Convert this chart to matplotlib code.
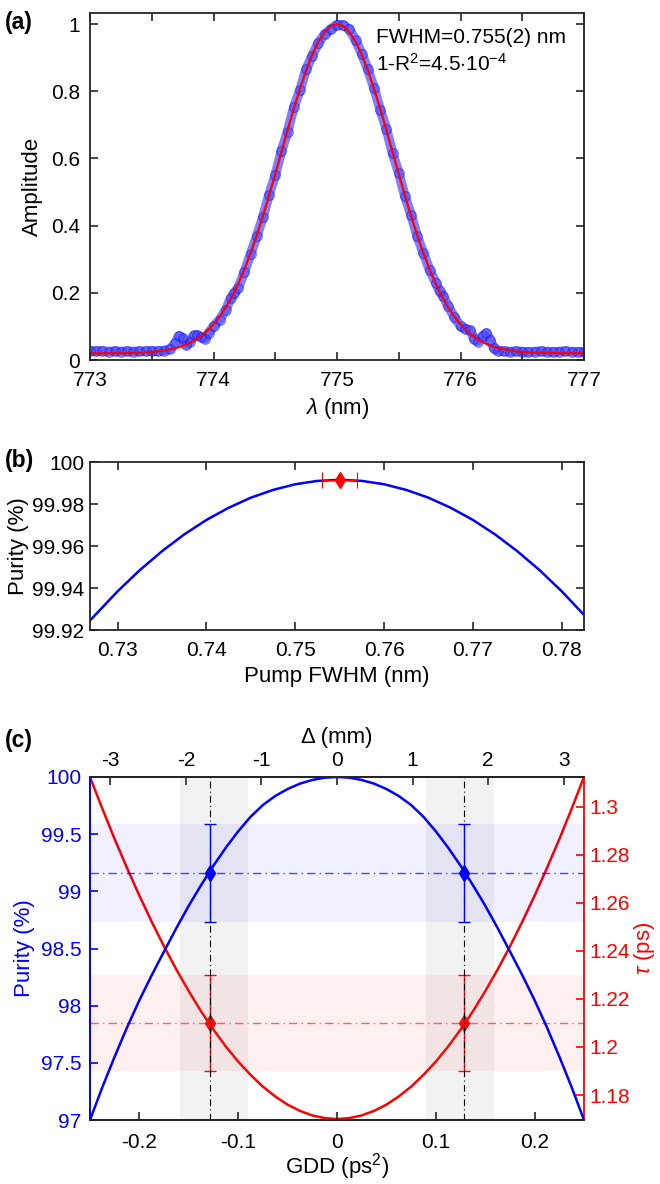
import numpy as np
import matplotlib
matplotlib.use("Agg")
import matplotlib.pyplot as plt
from matplotlib.ticker import FuncFormatter

plt.rcParams['font.family'] = ['Liberation Sans', 'DejaVu Sans']
plt.rcParams['mathtext.fontset'] = 'custom'
plt.rcParams['mathtext.rm'] = 'Liberation Sans'
plt.rcParams['mathtext.it'] = 'Liberation Sans:italic'
plt.rcParams['axes.unicode_minus'] = False

# ---- (a) measured spectrum and fit ----
lam_meas = [773.00, 773.05, 773.10, 773.15, 773.20, 773.25, 773.30, 773.35, 773.40, 773.45,
            773.50, 773.55, 773.60, 773.65, 773.69, 773.72, 773.75, 773.78, 773.81, 773.84,
            773.87, 773.90, 773.93, 773.96, 774.00, 774.05, 774.10, 774.14, 774.17, 774.20,
            774.25, 774.30, 774.35, 774.40, 774.45, 774.50, 774.55, 774.60, 774.65, 774.70,
            774.75, 774.80, 774.85, 774.90, 774.95, 775.00, 775.05, 775.10, 775.15, 775.20,
            775.25, 775.30, 775.35, 775.40, 775.45, 775.50, 775.55, 775.60, 775.65, 775.70,
            775.75, 775.80, 775.83, 775.86, 775.90, 775.95, 776.00, 776.04, 776.08, 776.11,
            776.14, 776.18, 776.21, 776.24, 776.27, 776.30, 776.35, 776.40, 776.45, 776.50,
            776.55, 776.60, 776.65, 776.70, 776.75, 776.80, 776.85, 776.90, 776.95, 777.00]
amp_meas = [0.027, 0.026, 0.027, 0.025, 0.026, 0.025, 0.026, 0.025, 0.026, 0.026,
            0.027, 0.026, 0.028, 0.033, 0.050, 0.072, 0.066, 0.045, 0.055, 0.073,
            0.074, 0.068, 0.063, 0.080, 0.100, 0.120, 0.150, 0.185, 0.200, 0.215,
            0.262, 0.315, 0.368, 0.425, 0.492, 0.550, 0.622, 0.680, 0.752, 0.803,
            0.866, 0.906, 0.945, 0.970, 0.985, 0.998, 0.997, 0.985, 0.952, 0.912,
            0.865, 0.810, 0.745, 0.688, 0.615, 0.557, 0.487, 0.432, 0.368, 0.318,
            0.268, 0.230, 0.205, 0.190, 0.160, 0.128, 0.100, 0.093, 0.088, 0.062,
            0.055, 0.072, 0.080, 0.060, 0.035, 0.028, 0.026, 0.025, 0.026, 0.025,
            0.024, 0.025, 0.026, 0.025, 0.024, 0.025, 0.026, 0.025, 0.024, 0.025]

lam_fit = [773.00, 773.10, 773.20, 773.30, 773.40, 773.50, 773.55, 773.60, 773.65, 773.70,
           773.75, 773.80, 773.85, 773.90, 773.95, 774.00, 774.05, 774.10, 774.15, 774.20,
           774.25, 774.30, 774.35, 774.40, 774.45, 774.50, 774.55, 774.60, 774.65, 774.70,
           774.75, 774.80, 774.85, 774.90, 774.95, 775.00, 775.05, 775.10, 775.15, 775.20,
           775.25, 775.30, 775.35, 775.40, 775.45, 775.50, 775.55, 775.60, 775.65, 775.70,
           775.75, 775.80, 775.85, 775.90, 775.95, 776.00, 776.05, 776.10, 776.15, 776.20,
           776.25, 776.30, 776.35, 776.40, 776.45, 776.50, 776.60, 776.70, 776.80, 776.90, 777.00]
amp_fit = [0.0200, 0.0200, 0.0201, 0.0203, 0.0209, 0.0241, 0.0259, 0.0284, 0.0317, 0.0361,
           0.0420, 0.0496, 0.0594, 0.0717, 0.0872, 0.1062, 0.1293, 0.1568, 0.1892, 0.2268,
           0.2697, 0.3178, 0.3709, 0.4285, 0.4898, 0.5537, 0.6190, 0.6843, 0.7476, 0.8074,
           0.8619, 0.9092, 0.9478, 0.9764, 0.9941, 1.0000, 0.9941, 0.9764, 0.9478, 0.9092,
           0.8619, 0.8074, 0.7476, 0.6843, 0.6190, 0.5537, 0.4898, 0.4285, 0.3709, 0.3178,
           0.2697, 0.2268, 0.1892, 0.1568, 0.1293, 0.1062, 0.0872, 0.0717, 0.0594, 0.0496,
           0.0420, 0.0361, 0.0317, 0.0284, 0.0259, 0.0241, 0.0220, 0.0209, 0.0203, 0.0201, 0.0200]

a_xticks = [773, 773.5, 774, 774.5, 775, 775.5, 776, 776.5, 777]
a_xlabels = ['773', '', '774', '', '775', '', '776', '', '777']
a_yticks = [0, 0.2, 0.4, 0.6, 0.8, 1]

# ---- (b) purity vs pump FWHM ----
fwhm_grid = [0.7270, 0.7275, 0.7300, 0.7325, 0.7350, 0.7375, 0.7400, 0.7425, 0.7450, 0.7475,
             0.7500, 0.7525, 0.7550, 0.7575, 0.7600, 0.7625, 0.7650, 0.7675, 0.7700, 0.7725,
             0.7750, 0.7775, 0.7800, 0.7825]
purity_b = [99.9250, 99.9272, 99.9384, 99.9485, 99.9575, 99.9655, 99.9724, 99.9782, 99.9830, 99.9867,
            99.9894, 99.9910, 99.9915, 99.9910, 99.9894, 99.9867, 99.9830, 99.9782, 99.9724, 99.9655,
            99.9575, 99.9485, 99.9384, 99.9272]
fwhm_meas, fwhm_err, purity_meas = 0.755, 0.002, 99.9915
b_xticks = [0.73, 0.74, 0.75, 0.76, 0.77, 0.78]
b_yticks = [99.92, 99.94, 99.96, 99.98, 100]

# ---- (c) purity and tau vs GDD ----
gdd = [-0.25, -0.2375, -0.225, -0.2125, -0.2, -0.1875, -0.175, -0.1625, -0.15, -0.1375,
       -0.125, -0.1125, -0.1, -0.0875, -0.075, -0.0625, -0.05, -0.0375, -0.025, -0.0125,
       0.0, 0.0125, 0.025, 0.0375, 0.05, 0.0625, 0.075, 0.0875, 0.1, 0.1125,
       0.125, 0.1375, 0.15, 0.1625, 0.175, 0.1875, 0.2, 0.2125, 0.225, 0.2375, 0.25]
purity_c = [97.000, 97.287, 97.555, 97.810, 98.048, 98.267, 98.475, 98.680, 98.875, 99.055,
            99.225, 99.382, 99.525, 99.652, 99.755, 99.834, 99.895, 99.942, 99.974, 99.994,
            100.000, 99.994, 99.974, 99.942, 99.895, 99.834, 99.755, 99.652, 99.525, 99.382,
            99.225, 99.055, 98.875, 98.680, 98.475, 98.267, 98.048, 97.810, 97.555, 97.287, 97.000]
tau_c = [1.3124, 1.2992, 1.2865, 1.2745, 1.2630, 1.2521, 1.2418, 1.2322, 1.2232, 1.2148,
         1.2072, 1.2002, 1.1939, 1.1884, 1.1835, 1.1794, 1.1760, 1.1734, 1.1715, 1.1704,
         1.1700, 1.1704, 1.1715, 1.1734, 1.1760, 1.1794, 1.1835, 1.1884, 1.1939, 1.2002,
         1.2072, 1.2148, 1.2232, 1.2322, 1.2418, 1.2521, 1.2630, 1.2745, 1.2865, 1.2992, 1.3124]
gdd_mark = [-0.129, 0.129]
purity_mark, purity_err = 99.16, 0.43
tau_mark, tau_err = 1.21, 0.02
gdd_bands = [(-0.159, -0.090), (0.090, 0.159)]
MM_PER_PS2 = 13.08   # Delta (mm) per GDD (ps^2)
c_xticks = [-0.2, -0.1, 0, 0.1, 0.2]
c_top_ticks = [-3, -2, -1, 0, 1, 2, 3]
c_yticks = [97, 97.5, 98, 98.5, 99, 99.5, 100]
c_ryticks = [1.18, 1.2, 1.22, 1.24, 1.26, 1.28, 1.3]

W, H = 660, 1184
TICK = 15
LAB = 16
SP = '#262626'
DASHDOT = (0, (6, 3, 1, 3))
fmt = FuncFormatter(lambda v, p: f'{round(v, 6) + 0.0:g}')


def box(ax):
    for s in ax.spines.values():
        s.set_color(SP)
        s.set_linewidth(1.3)
    ax.tick_params(direction='in', top=True, right=True, length=6, width=1.2,
                   labelsize=TICK, colors=SP, labelcolor='black')


fig = plt.figure(figsize=(W / 100, H / 100), dpi=100)

# (a)
ax1 = fig.add_axes([90 / W, 1 - 360 / H, 494 / W, 347 / H])
ax1.plot(lam_meas, amp_meas, color='blue', lw=7, alpha=0.5, solid_capstyle='round')
ax1.plot(lam_meas, amp_meas, 'o', ms=7, mfc=(0.2, 0.2, 1, 0.35), mec=(0, 0, 1, 0.45), mew=0.8)
ax1.plot(lam_fit, amp_fit, color='red', lw=1.6)
ax1.set_xlim(773, 777)
ax1.set_ylim(0, 1.033)
ax1.set_xticks(a_xticks, a_xlabels)
ax1.set_yticks(a_yticks)
ax1.yaxis.set_major_formatter(fmt)
box(ax1)
ax1.tick_params(axis='x', pad=8)
ax1.tick_params(axis='y', pad=7)
ax1.set_xlabel(r'$\lambda$ (nm)', fontsize=LAB, labelpad=4)
ax1.set_ylabel('Amplitude', fontsize=LAB, labelpad=6)
ax1.text(0.579, 0.9127, 'FWHM=0.755(2) nm', transform=ax1.transAxes, fontsize=TICK, va='baseline')
ax1.text(0.579, 0.8337, r'1-R$^2$=4.5$\cdot$10$^{-4}$', transform=ax1.transAxes, fontsize=TICK,
         va='baseline')

# (b)
ax2 = fig.add_axes([90 / W, 1 - 630 / H, 494 / W, 168 / H])
ax2.plot(fwhm_grid, purity_b, color='blue', lw=1.8)
ax2.errorbar([fwhm_meas], [purity_meas], xerr=[fwhm_err], fmt='d', color='red', ms=8,
             capsize=6, elinewidth=0.8, capthick=0.8)
ax2.set_xlim(0.7269, 0.7825)
ax2.set_ylim(99.92, 100)
ax2.set_xticks(b_xticks)
ax2.set_yticks(b_yticks)
ax2.xaxis.set_major_formatter(fmt)
ax2.yaxis.set_major_formatter(fmt)
box(ax2)
ax2.tick_params(axis='x', pad=8)
ax2.tick_params(axis='y', pad=4)
ax2.set_xlabel('Pump FWHM (nm)', fontsize=LAB, labelpad=4)
ax2.set_ylabel('Purity (%)', fontsize=LAB, labelpad=2)

# (c)
ax3 = fig.add_axes([90 / W, 1 - 1120 / H, 494 / W, 343 / H])
ax3r = ax3.twinx()
ax3.set_zorder(ax3r.get_zorder() + 1)
ax3.patch.set_visible(False)

ax3r.axhspan(tau_mark - tau_err, tau_mark + tau_err, color='red', alpha=0.06, lw=0)
for lo, hi in gdd_bands:
    ax3.axvspan(lo, hi, color='0.5', alpha=0.1, lw=0)
ax3.axhspan(purity_mark - purity_err, purity_mark + purity_err, color='blue', alpha=0.06, lw=0)
for g in gdd_mark:
    ax3.axvline(g, color='black', lw=0.8, ls=DASHDOT)
ax3.axhline(purity_mark, color='blue', alpha=0.7, lw=1, ls=DASHDOT)
ax3r.axhline(tau_mark, color='red', alpha=0.6, lw=1, ls=DASHDOT)

ax3r.plot(gdd, tau_c, color='red', lw=1.8)
ax3.plot(gdd, purity_c, color='blue', lw=1.8)
ax3.errorbar(gdd_mark, [purity_mark] * 2, yerr=purity_err, fmt='d', color='blue', ms=8,
             capsize=4, elinewidth=1, capthick=1, zorder=5)
ax3r.errorbar(gdd_mark, [tau_mark] * 2, yerr=tau_err, fmt='d', color='red', ms=8,
              capsize=4, elinewidth=1, capthick=1, zorder=5)

ax3.set_xlim(-0.25, 0.25)
ax3.set_ylim(97, 100)
ax3r.set_ylim(1.1696, 1.3124)
ax3.set_xticks(c_xticks)
ax3.set_yticks(c_yticks)
ax3r.set_yticks(c_ryticks)
for a in (ax3.xaxis, ax3.yaxis, ax3r.yaxis):
    a.set_major_formatter(fmt)

ax3.spines['right'].set_visible(False)
ax3.spines['top'].set_color(SP)
ax3.spines['bottom'].set_color(SP)
ax3.spines['left'].set_color('blue')
ax3r.spines['left'].set_color('blue')
ax3r.spines['right'].set_color('red')
ax3r.spines['top'].set_color(SP)
for s in list(ax3.spines.values()) + list(ax3r.spines.values()):
    s.set_linewidth(1.3)
ax3.tick_params(axis='x', direction='in', length=6, width=1.2, colors=SP, labelcolor='black',
                labelsize=TICK, pad=9)
ax3.tick_params(axis='y', direction='in', length=6, width=1.2, colors='blue', labelsize=TICK, pad=6)
ax3r.tick_params(axis='y', direction='in', length=6, width=1.2, colors='red', labelsize=TICK, pad=4)

top = ax3.secondary_xaxis('top', functions=(lambda g: g * MM_PER_PS2, lambda d: d / MM_PER_PS2))
top.set_xticks(c_top_ticks)
top.xaxis.set_major_formatter(fmt)
top.tick_params(direction='in', length=6, width=1.2, colors=SP, labelcolor='black',
                labelsize=TICK, pad=5)
top.spines['top'].set_color(SP)
top.spines['top'].set_linewidth(1.3)
top.set_xlabel('Δ (mm)', fontsize=LAB, labelpad=6)

ax3.set_xlabel(r'GDD (ps$^2$)', fontsize=LAB, labelpad=0)
ax3.set_ylabel('Purity (%)', fontsize=LAB, color='blue', labelpad=4)
ax3r.set_ylabel(r'$\tau$ (ps)', fontsize=LAB, color='red', labelpad=1)

for lab, yc in (('(a)', 22), ('(b)', 461), ('(c)', 740)):
    fig.text(5 / W, 1 - yc / H, lab, fontsize=16.5, fontweight='bold', va='center', ha='left')

fig.savefig('out.png', dpi=100)
